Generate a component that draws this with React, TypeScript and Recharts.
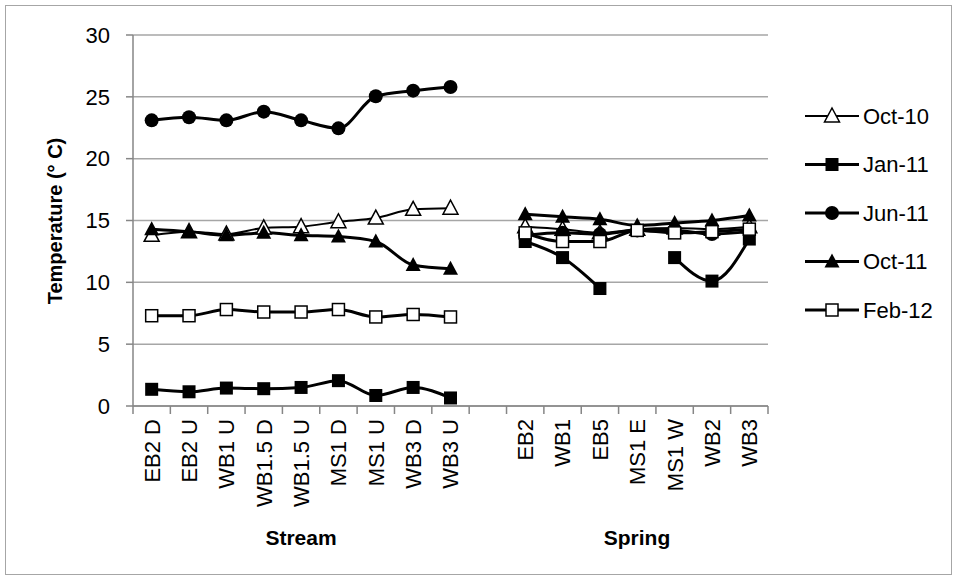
import React from 'react';
import { LineChart, Line, XAxis, YAxis, CartesianGrid } from 'recharts';

// sites: 9 stream sites, one empty slot as a gap, then 7 spring sites
const streamSites = ['EB2 D', 'EB2 U', 'WB1 U', 'WB1.5 D', 'WB1.5 U', 'MS1 D', 'MS1 U', 'WB3 D', 'WB3 U'];
const springSites = ['EB2', 'WB1', 'EB5', 'MS1 E', 'MS1 W', 'WB2', 'WB3'];
const sites = [...streamSites, ' ', ...springSites];

const oct10 = [13.8, 14.1, 13.9, 14.4, 14.5, 14.9, 15.2, 15.9, 16.0, null, 14.5, 14.3, 14.0, 14.3, 14.4, 14.3, 14.5];
const jan11 = [1.35, 1.15, 1.45, 1.4, 1.5, 2.05, 0.85, 1.5, 0.65, null, 13.3, 12.0, 9.5, null, 12.0, 10.1, 13.5];
const jun11 = [23.1, 23.35, 23.1, 23.8, 23.1, 22.45, 25.05, 25.5, 25.8, null, 13.8, 14.0, 13.9, 14.2, 14.2, 13.9, 14.1];
const oct11 = [14.3, 14.1, 13.8, 14.0, 13.8, 13.7, 13.3, 11.4, 11.1, null, 15.5, 15.3, 15.1, 14.6, 14.8, 15.0, 15.4];
const feb12 = [7.3, 7.3, 7.8, 7.6, 7.6, 7.8, 7.2, 7.4, 7.2, null, 14.0, 13.3, 13.3, 14.2, 14.0, 14.1, 14.3];

const yTicks = [0, 5, 10, 15, 20, 25, 30];

type MarkerKind = 'openTriangle' | 'square' | 'circle' | 'triangle' | 'openSquare';

const series: { key: string; name: string; values: (number | null)[]; marker: MarkerKind; width: number }[] = [
  { key: 'oct10', name: 'Oct-10', values: oct10, marker: 'openTriangle', width: 2 },
  { key: 'jan11', name: 'Jan-11', values: jan11, marker: 'square', width: 3 },
  { key: 'jun11', name: 'Jun-11', values: jun11, marker: 'circle', width: 3 },
  { key: 'oct11', name: 'Oct-11', values: oct11, marker: 'triangle', width: 3 },
  { key: 'feb12', name: 'Feb-12', values: feb12, marker: 'openSquare', width: 3 },
];

const data = sites.map((site, i) => {
  const row: Record<string, any> = { site, pos: i + 0.5 };
  series.forEach((s) => {
    row[s.key] = s.values[i];
  });
  return row;
});

const FONT = "'Liberation Sans', Arial, sans-serif";
const GRID = '#a6a6a6';
const AXIS = '#868686';

const Marker = ({ kind, cx, cy }: { kind: MarkerKind; cx: number; cy: number }) => {
  if (kind === 'circle') return <circle cx={cx} cy={cy} r={7} fill="#000" />;
  if (kind === 'square') return <rect x={cx - 6.5} y={cy - 6.5} width={13} height={13} fill="#000" />;
  if (kind === 'openSquare')
    return <rect x={cx - 6} y={cy - 6} width={12} height={12} fill="#fff" stroke="#000" strokeWidth={1.5} />;
  const pts = `${cx},${cy - 8} ${cx + 7.5},${cy + 6} ${cx - 7.5},${cy + 6}`;
  if (kind === 'triangle') return <polygon points={pts} fill="#000" />;
  return <polygon points={pts} fill="#fff" stroke="#000" strokeWidth={1.5} />;
};

const makeDot = (kind: MarkerKind) => (props: any) => {
  const { cx, cy, value, index } = props;
  if (cx == null || cy == null || value == null) return <g key={`e-${index}`} />;
  return (
    <g key={`${kind}-${index}`}>
      <Marker kind={kind} cx={cx} cy={cy} />
    </g>
  );
};

const SiteTick = (props: any) => {
  const { x, y, payload } = props;
  return (
    <text
      x={x}
      y={y + 3}
      transform={`rotate(-90, ${x}, ${y + 3})`}
      textAnchor="end"
      dy="0.36em"
      fontSize={22}
      fontFamily={FONT}
      fill="#000"
    >
      {payload.value}
    </text>
  );
};

const App: React.FC = () => {
  const boundaries = Array.from({ length: sites.length + 1 }, (_, i) => i);
  return (
    <div style={{ position: 'absolute', left: 0, top: 0, width: 958, height: 581, background: '#fff' }}>
      <LineChart width={958} height={581} data={data} margin={{ top: 35, right: 190, left: 0, bottom: 55 }}>
        <CartesianGrid vertical={false} stroke={GRID} strokeWidth={1.5} />
        <XAxis
          xAxisId="grid"
          dataKey="pos"
          type="number"
          domain={[0, sites.length]}
          ticks={boundaries}
          interval={0}
          allowDataOverflow
          height={10}
          tickSize={8}
          stroke={AXIS}
          strokeWidth={1.5}
          tick={() => <g />}
        />
        <XAxis
          xAxisId="site"
          dataKey="site"
          type="category"
          scale="band"
          interval={0}
          height={110}
          axisLine={false}
          tickLine={false}
          tickSize={0}
          tickMargin={0}
          tick={<SiteTick />}
        />
        <YAxis
          width={133}
          domain={[0, 30]}
          ticks={yTicks}
          interval={0}
          stroke={AXIS}
          strokeWidth={1.5}
          tickSize={7}
          tickMargin={16}
          tick={{ fill: '#000', fontSize: 22, fontFamily: FONT }}
        />
        {series.map((s) => (
          <Line
            key={s.key}
            xAxisId="site"
            type="monotone"
            dataKey={s.key}
            name={s.name}
            stroke="#000"
            strokeWidth={s.width}
            dot={makeDot(s.marker)}
            activeDot={false}
            isAnimationActive={false}
          />
        ))}
      </LineChart>
      <svg width={958} height={581} style={{ position: 'absolute', left: 0, top: 0, pointerEvents: 'none' }}>
        <rect x={5.5} y={5.5} width={946} height={569} fill="none" stroke="#a6a6a6" strokeWidth={1} />
        <text
          x={55}
          y={221}
          transform="rotate(-90, 55, 221)"
          textAnchor="middle"
          dy="0.35em"
          fontSize={20}
          fontWeight="bold"
          fontFamily={FONT}
        >
          Temperature (° C)
        </text>
        <text x={301} y={538} textAnchor="middle" dy="0.35em" fontSize={21} fontWeight="bold" fontFamily={FONT}>
          Stream
        </text>
        <text x={637} y={538} textAnchor="middle" dy="0.35em" fontSize={21} fontWeight="bold" fontFamily={FONT}>
          Spring
        </text>
        {series.map((s, i) => {
          const y = 116 + i * 48.5;
          return (
            <g key={s.key}>
              <line x1={805} x2={859} y1={y} y2={y} stroke="#000" strokeWidth={s.width} />
              <Marker kind={s.marker} cx={832} cy={y} />
              <text x={863} y={y} dy="0.35em" fontSize={22} fontFamily={FONT}>
                {s.name}
              </text>
            </g>
          );
        })}
      </svg>
    </div>
  );
};

export default App;
